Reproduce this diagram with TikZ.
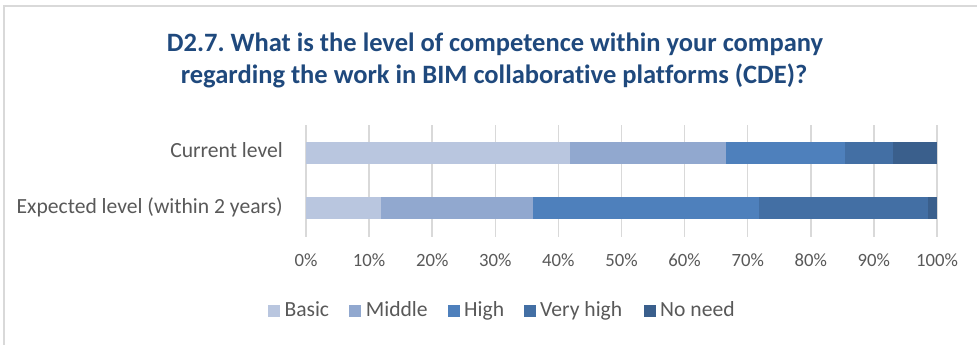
\documentclass[tikz,border=0pt]{standalone}
\usepackage{fontspec}
\setmainfont[Ligatures=NoCommon]{Carlito}
\frenchspacing
\definecolor{cbasic}{HTML}{B9C6DF}
\definecolor{cmiddle}{HTML}{91A8CF}
\definecolor{chigh}{HTML}{4E80BC}
\definecolor{cvhigh}{HTML}{436FA4}
\definecolor{cnoneed}{HTML}{3A5F8C}
\definecolor{txtgrey}{HTML}{595959}
\definecolor{gridgrey}{HTML}{D9D9D9}
\definecolor{titleblue}{HTML}{1F497D}
\newcommand\barseg[5]{\fill[#4] ({306+6.31*#2},#1) rectangle ({306+6.31*#3},{#1+22}) coordinate (#5);}
\begin{document}
\begin{tikzpicture}[x=1pt,y=-1pt,
  lbl/.style={text=txtgrey, font=\fontsize{21.6}{26}\selectfont, inner sep=0pt},
  ticklbl/.style={text=txtgrey, font=\fontsize{18.7}{22}\selectfont, inner sep=0pt},
  ttl/.style={text=titleblue, font=\fontsize{26.5}{32}\selectfont\bfseries, inner sep=0pt},
  gridline/.style={draw=gridgrey, line width=1.5pt},
  legbox/.style={minimum width=12pt, minimum height=11.5pt, inner sep=0pt, anchor=south west}]
\useasboundingbox (0,0) rectangle (977,345);
\fill[white] (0,0) rectangle (977,345);
\draw[gridgrey, line width=2pt] (4,345) -- (4,6) -- (977,6);
% title
\node[ttl, anchor=base] (title1) at (495,51.7) {D2.7. What is the level of competence within your company};
\node[ttl, anchor=base] (title2) at (494,83.5) {regarding the work in BIM collaborative platforms (CDE)?};
% grid and tick labels
\foreach \i [evaluate=\i as \p using int(10*\i)] in {0,...,10} {
  \draw[gridline] ({306+63.1*\i},125) -- ({306+63.1*\i},237);
  \node[ticklbl, anchor=base] (tick\i) at ({306+63.1*\i},266.7) {\p\%};
}
% bars
\barseg{141.5}{0}{41.8}{cbasic}{c1}
\barseg{141.5}{41.8}{66.6}{cmiddle}{c2}
\barseg{141.5}{66.6}{85.4}{chigh}{c3}
\barseg{141.5}{85.4}{93.1}{cvhigh}{c4}
\barseg{141.5}{93.1}{100}{cnoneed}{c5}
\barseg{197.3}{0}{11.9}{cbasic}{e1}
\barseg{197.3}{11.9}{36.0}{cmiddle}{e2}
\barseg{197.3}{36.0}{71.8}{chigh}{e3}
\barseg{197.3}{71.8}{98.5}{cvhigh}{e4}
\barseg{197.3}{98.5}{100}{cnoneed}{e5}
% category labels
\node[lbl, anchor=base east] (cur) at (283,157.7) {Current level};
\node[lbl, anchor=base east] (exp) at (283,213.4) {Expected level (within 2 years)};
% legend
\node[legbox, fill=cbasic] (lb1) at (267.3,316.8) {};
\node[lbl, anchor=base west] (lt1) at (284.3,316) {Basic};
\node[legbox, fill=cmiddle] (lb2) at (348.3,316.8) {};
\node[lbl, anchor=base west] (lt2) at (365.7,316) {Middle};
\node[legbox, fill=chigh] (lb3) at (447.3,316.8) {};
\node[lbl, anchor=base west] (lt3) at (464,316) {High};
\node[legbox, fill=cvhigh] (lb4) at (523.3,316.8) {};
\node[lbl, anchor=base west] (lt4) at (540,316) {Very high};
\node[legbox, fill=cnoneed] (lb5) at (643.3,316.8) {};
\node[lbl, anchor=base west] (lt5) at (660,316) {No need};
\end{tikzpicture}
\end{document}
